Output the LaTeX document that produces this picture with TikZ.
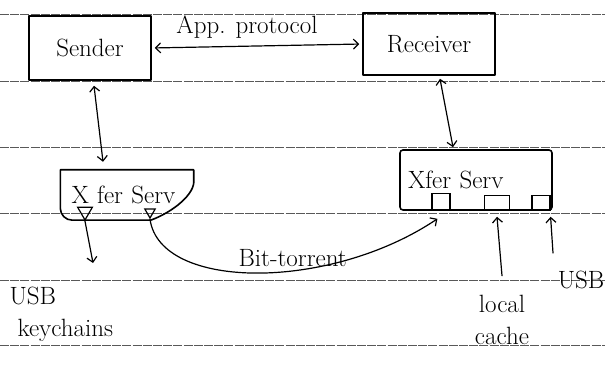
\documentclass[tikz,border=0pt]{standalone}
\usepackage{tikz}
\usetikzlibrary{arrows.meta,positioning,shapes.geometric,calc}

\begin{document}
\begin{tikzpicture}[x=1pt, y=1pt,
    >={Straight Barb[length=5pt, width=10pt]},
    pen/.style={line width=1.6pt, line cap=round, line join=round},
    link/.style={line width=1.2pt, line cap=round},
    hand/.style={font=\fontsize{25}{32}\selectfont},
    rule/.style={black!65, line width=0.6pt, dash pattern=on 9pt off 1.2pt},
    tri/.style={draw, line width=1.2pt, regular polygon, regular polygon sides=3,
                shape border rotate=180, inner sep=0pt},
    port/.style={draw, line width=1.2pt, inner sep=0pt, anchor=south}]
    \useasboundingbox (0,0) rectangle (605,371);

    % Ruled paper
    \foreach \ry in {26,91,158,224,290,357}
        \draw[rule] (0,\ry) -- (605,\ry);

    % End hosts
    \node[hand, draw, pen, minimum width=122pt, minimum height=64pt] (sender) at (90,323) {Sender};
    \node[hand, draw, pen, minimum width=132pt, minimum height=62pt] (receiver) at (429,327) {Receiver};
    \draw[link, <->, shorten <=3pt, shorten >=3pt] (sender.east) -- (receiver.west)
        node[midway, above=4pt, xshift=-10pt, hand] {App. protocol};

    % Transfer services
    \node[hand, minimum height=50pt, text width=111pt, inner xsep=11pt, align=left] (lxfer) at (127,176) {X fer Serv};
    \draw[pen] (lxfer.north west) -- (lxfer.north east) -- ([yshift=-10pt]lxfer.north east)
        .. controls +(2,-14) and +(22,8) .. ([xshift=-43pt]lxfer.south east)
        -- ([xshift=12pt]lxfer.south west) to[out=180, in=-90] ([yshift=12pt]lxfer.south west) -- cycle;
    \node[hand, draw, pen, rounded corners=3pt, minimum height=60pt, text width=136pt,
          inner xsep=8pt, align=left] (rxfer) at (476,191) {Xfer Serv};

    % Ports
    \node[tri, minimum size=17pt] (lportA) at (85,159.5) {};
    \node[tri, minimum size=12pt] (lportB) at (150,159) {};
    \node[port, minimum width=18pt, minimum height=17pt] (rportA) at ([xshift=-35pt]rxfer.south) {};
    \node[port, minimum width=25pt, minimum height=15pt] (rportB) at ([xshift=21pt]rxfer.south) {};
    \node[port, minimum width=18pt, minimum height=15pt] (rportC) at ([xshift=65pt]rxfer.south) {};

    % Control links
    \draw[link, <->] ([xshift=4pt, yshift=-5pt]sender.south) -- ([xshift=-24pt, yshift=8pt]lxfer.north);
    \draw[link, <->] ([xshift=11pt, yshift=-3pt]receiver.south) -- ([xshift=-23pt, yshift=2pt]rxfer.north);

    % Bit-torrent transfer
    \draw[link, ->] (lportB.south) .. controls (160,80) and (330,80) .. ([xshift=6pt, yshift=-8pt]rportA.south west)
        node[pos=0.6, above=0pt, hand] {Bit-torrent};

    % USB keychains
    \coordinate (keytip) at (93,108);
    \draw[link, ->] (lportA.south) -- (keytip);
    \node[hand, align=left, anchor=north west] (keys) at (6,88) {USB\\\hspace*{8pt}keychains};

    % Local cache and USB
    \node[hand, align=center] (cache) at (502,51) {local\\cache};
    \draw[link, ->] ([yshift=16pt]cache.north) -- ([yshift=-6pt]rportB.south);
    \node[hand] (usb) at (581,91) {USB};
    \coordinate (usbtail) at (553,118);
    \draw[link, ->] (usbtail) -- ([yshift=-6pt]rportC.south east);
\end{tikzpicture}
\end{document}
